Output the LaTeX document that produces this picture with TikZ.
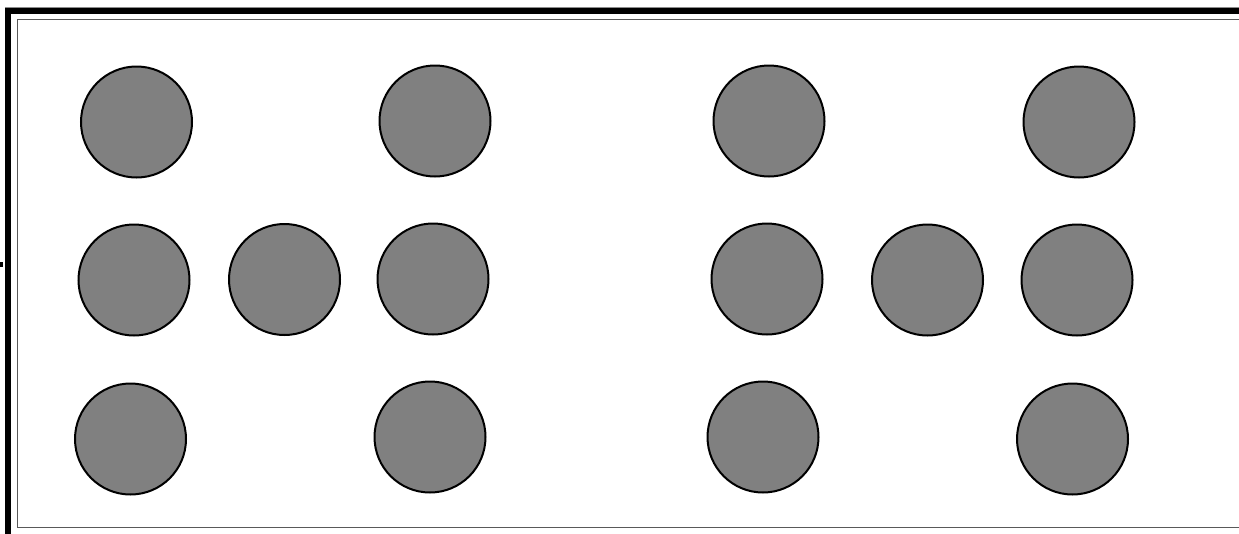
\documentclass[tikz,border=0pt]{standalone}
\usetikzlibrary{positioning}

\begin{document}
\begin{tikzpicture}[x=1pt, y=-1pt,
    disk/.style={circle, draw=black, line width=2pt, fill=gray,
                 minimum size=111pt, inner sep=0pt},
    okvir/.style={draw=black, line width=6pt},
    rub/.style={draw=black!65, line width=1.3pt}]

    \useasboundingbox (0,0) rectangle (1239,533);
    \clip (0,0) rectangle (1239,533);

    % ---------------- okvir ----------------
    \draw [draw=black!45, line width=1pt] (5,7) -- (1250,7);
    \draw [okvir] (8,545) -- (8,11) -- (1250,11);
    \draw [rub] (1250,19.5) -- (17.5,19.5) -- (17.5,527.8) -- (1250,527.8);
    \fill [black] (0,262) rectangle (2.5,267);

    % ---------------- levi skup ----------------
    \node (l1) [disk] at (136.5,122) {};
    \node (l2) [disk] at (435,121)   {};
    \node (l3) [disk] at (134,280)   {};
    \node (l4) [disk] at (284.5,279.5) {};
    \node (l5) [disk] at (433,279)   {};
    \node (l6) [disk] at (130.5,439) {};
    \node (l7) [disk] at (430,437)   {};

    % ---------------- desni skup ----------------
    \node (r1) [disk] at (769,121)   {};
    \node (r2) [disk] at (1079,122)  {};
    \node (r3) [disk] at (767,279)   {};
    \node (r4) [disk] at (927.5,280) {};
    \node (r5) [disk] at (1077,280)  {};
    \node (r6) [disk] at (763,437)   {};
    \node (r7) [disk] at (1072.5,439) {};
\end{tikzpicture}
\end{document}
